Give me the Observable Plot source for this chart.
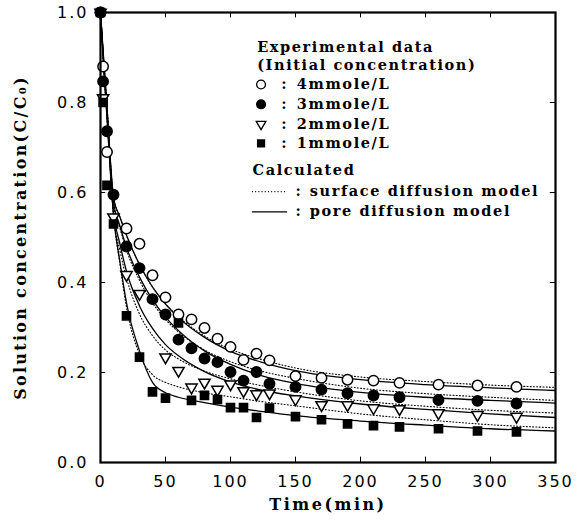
<!DOCTYPE html>
<html><head><meta charset="utf-8">
<script src="https://cdn.jsdelivr.net/npm/d3@7"></script>
<script src="https://cdn.jsdelivr.net/npm/@observablehq/plot@0.6"></script>
<style>
body{margin:0;background:#fff}
#chart{position:absolute;left:0;top:0}
</style></head><body><div id="chart"></div><script>
// ---- experimental data ----
const t4 = [0, 2, 5, 20, 30, 40, 50, 60, 70, 80, 90, 100, 110, 120, 130, 150, 170, 190, 210, 230, 260, 290, 320];
const c4 = [1.0, 0.88, 0.69, 0.52, 0.486, 0.416, 0.367, 0.329, 0.318, 0.299, 0.275, 0.257, 0.228, 0.242, 0.227, 0.192, 0.188, 0.184, 0.182, 0.177, 0.173, 0.171, 0.168];
const t3 = [0, 2, 5, 10, 20, 30, 40, 50, 60, 70, 80, 90, 100, 110, 120, 130, 150, 170, 190, 210, 230, 260, 290, 320];
const c3 = [1.0, 0.847, 0.736, 0.595, 0.48, 0.432, 0.363, 0.329, 0.273, 0.254, 0.231, 0.223, 0.201, 0.182, 0.201, 0.175, 0.168, 0.162, 0.154, 0.149, 0.145, 0.139, 0.137, 0.131];
const t2 = [0, 2, 10, 20, 30, 50, 60, 70, 80, 90, 100, 110, 120, 130, 150, 170, 190, 210, 230, 260, 290, 320];
const c2 = [1.0, 0.81, 0.545, 0.417, 0.375, 0.234, 0.204, 0.167, 0.178, 0.162, 0.174, 0.159, 0.152, 0.154, 0.141, 0.128, 0.128, 0.121, 0.119, 0.11, 0.106, 0.102];
const t1 = [0, 2, 5, 10, 20, 30, 40, 50, 60, 70, 80, 90, 100, 110, 120, 130, 150, 170, 190, 210, 230, 260, 290, 320];
const c1 = [1.0, 0.80, 0.616, 0.53, 0.326, 0.234, 0.157, 0.143, 0.31, 0.138, 0.149, 0.14, 0.122, 0.122, 0.1, 0.121, 0.102, 0.095, 0.086, 0.082, 0.079, 0.075, 0.07, 0.068];

// ---- calculated curves ----
const curveT = [0, 2, 5, 10, 15, 20, 30, 40, 50, 60, 80, 100, 125, 150, 200, 250, 300, 350];
const pore4 = [1.0, 0.915, 0.79, 0.59, 0.545, 0.505, 0.44, 0.39, 0.352, 0.322, 0.278, 0.247, 0.222, 0.204, 0.184, 0.173, 0.166, 0.16];
const surf4 = [1.0, 0.915, 0.79, 0.59, 0.545, 0.505, 0.44, 0.39, 0.353, 0.324, 0.281, 0.252, 0.228, 0.21, 0.19, 0.18, 0.172, 0.167];
const pore3 = [1.0, 0.91, 0.785, 0.58, 0.525, 0.478, 0.412, 0.362, 0.323, 0.293, 0.248, 0.218, 0.192, 0.176, 0.156, 0.145, 0.138, 0.132];
const surf3 = [1.0, 0.91, 0.785, 0.575, 0.52, 0.472, 0.405, 0.355, 0.318, 0.29, 0.25, 0.224, 0.202, 0.187, 0.165, 0.153, 0.145, 0.138];
const pore2 = [1.0, 0.905, 0.775, 0.56, 0.485, 0.425, 0.348, 0.298, 0.262, 0.237, 0.202, 0.179, 0.16, 0.148, 0.13, 0.118, 0.108, 0.1];
const surf2 = [1.0, 0.905, 0.775, 0.55, 0.47, 0.41, 0.33, 0.282, 0.25, 0.23, 0.203, 0.186, 0.17, 0.157, 0.137, 0.125, 0.116, 0.11];
const pore1 = [1.0, 0.9, 0.765, 0.55, 0.445, 0.355, 0.248, 0.178, 0.155, 0.145, 0.133, 0.123, 0.113, 0.104, 0.092, 0.083, 0.075, 0.07];
const surf1 = [1.0, 0.9, 0.765, 0.55, 0.44, 0.345, 0.24, 0.195, 0.178, 0.168, 0.155, 0.146, 0.135, 0.126, 0.108, 0.095, 0.084, 0.077];

// ---- axes & text ----
const xTicks = [0, 50, 100, 150, 200, 250, 300, 350];
const yTicks = [0.0, 0.2, 0.4, 0.6, 0.8, 1.0];
const xTitle = "Time(min)";
const yTitle = "Solution concentration(C/C\u2080)";
const legendHead = ["Experimental data", "(Initial concentration)"];
const seriesLabels = ["4mmole/L", "3mmole/L", "2mmole/L", "1mmole/L"];
const calcHead = "Calculated";
const modelLabels = ["surface diffusion model", "pore diffusion model"];

const pts = (t, c) => t.map((x, i) => ({t: x, c: c[i]}));
const crv = (v) => curveT.map((x, i) => ({t: x, c: v[i]}));

const serif = "DejaVu Serif";
const legX = 120.5, symX = 123.5, colX = 141, labX = 151;
const rowsY = [0.922, 0.882, 0.84, 0.796, 0.752, 0.709];
const calcY = 0.649, modelY = [0.602, 0.557];
const lineX1 = 116.5, lineX2 = 143.5, modelColX = 152, modelLabX = 161;
const dotted = "1,2.2";

const symbols = [
  {symbol: "circle", fill: "white", stroke: "black", r: 5.2, rotate: 0},
  {symbol: "circle", fill: "black", stroke: "black", r: 5.2, rotate: 0},
  {symbol: "triangle", fill: "white", stroke: "black", r: 4.2, rotate: 180},
  {symbol: "square", fill: "black", stroke: "black", r: 4.6, rotate: 0}
];
const series = [pts(t4, c4), pts(t3, c3), pts(t2, c2), pts(t1, c1)];

const dotMarks = series.map((d, i) => Plot.dot(d, {x: "t", y: "c", symbol: () => symbols[i].symbol, fill: symbols[i].fill, stroke: symbols[i].stroke, strokeWidth: 1.5, r: symbols[i].r, rotate: symbols[i].rotate}));
const legendDots = symbols.map((s, i) => Plot.dot([{t: symX, c: rowsY[i + 2]}], {x: "t", y: "c", symbol: () => s.symbol, fill: s.fill, stroke: s.stroke, strokeWidth: 1.3, r: s.r * 0.85, rotate: s.rotate}));

const chart = Plot.plot({
  width: 578, height: 524,
  marginLeft: 100, marginRight: 23, marginTop: 12, marginBottom: 62,
  x: {domain: [0, 350]},
  y: {domain: [0, 1]},
  style: {background: "white", color: "black"},
  marks: [
    // curves
    ...[surf4, surf3, surf2, surf1].map(v => Plot.line(crv(v), {x: "t", y: "c", stroke: "black", strokeWidth: 1.1, strokeDasharray: dotted, curve: "monotone-x"})),
    ...[pore4, pore3, pore2, pore1].map(v => Plot.line(crv(v), {x: "t", y: "c", stroke: "black", strokeWidth: 1.3, curve: "monotone-x"})),
    ...dotMarks,
    // inward ticks
    Plot.ruleX(xTicks.slice(1, -1), {y1: 0, y2: 0.012, stroke: "black", strokeWidth: 1}),
    Plot.ruleX(xTicks.slice(1, -1), {y1: 1, y2: 0.988, stroke: "black", strokeWidth: 1}),
    Plot.ruleY(yTicks.slice(1, -1), {x1: 0, x2: 4, stroke: "black", strokeWidth: 1}),
    Plot.ruleY(yTicks.slice(1, -1), {x1: 350, x2: 346, stroke: "black", strokeWidth: 1}),
    Plot.frame({stroke: "black", strokeWidth: 2.2}),
    Plot.axisX(xTicks, {label: null, tickSize: 0, tickPadding: 13, fontSize: 16, fontFamily: "DejaVu Sans", tickFormat: d3.format("d")}),
    Plot.axisY(yTicks, {label: null, tickSize: 0, tickPadding: 12, fontSize: 16, fontFamily: "DejaVu Sans", tickFormat: d3.format(".1f")}),
    Plot.text([xTitle], {frameAnchor: "bottom", dy: 47, fontFamily: serif, fontWeight: "bold", fontSize: 16}),
    Plot.text([yTitle], {frameAnchor: "left", dx: -80, rotate: -90, textAnchor: "middle", fontFamily: serif, fontWeight: "bold", fontSize: 16}),
    // legend
    Plot.text(legendHead, {x: legX, y: (d, i) => rowsY[i], textAnchor: "start", fontFamily: serif, fontWeight: "bold", fontSize: 14.5}),
    ...legendDots,
    Plot.text(seriesLabels, {x: colX, y: (d, i) => rowsY[i + 2], text: () => ":", textAnchor: "middle", fontFamily: serif, fontWeight: "bold", fontSize: 14.5}),
    Plot.text(seriesLabels, {x: labX, y: (d, i) => rowsY[i + 2], textAnchor: "start", fontFamily: serif, fontWeight: "bold", fontSize: 14.5}),
    Plot.text([calcHead], {x: legX - 3.5, y: calcY, textAnchor: "start", fontFamily: serif, fontWeight: "bold", fontSize: 14.5}),
    Plot.link([modelLabels[0]], {x1: lineX1, x2: lineX2, y1: modelY[0], y2: modelY[0], stroke: "black", strokeWidth: 1.1, strokeDasharray: dotted}),
    Plot.link([modelLabels[1]], {x1: lineX1, x2: lineX2, y1: modelY[1], y2: modelY[1], stroke: "black", strokeWidth: 1.4}),
    Plot.text(modelLabels, {x: modelColX, y: (d, i) => modelY[i], text: () => ":", textAnchor: "middle", fontFamily: serif, fontWeight: "bold", fontSize: 14.5}),
    Plot.text(modelLabels, {x: modelLabX, y: (d, i) => modelY[i], textAnchor: "start", fontFamily: serif, fontWeight: "bold", fontSize: 14.5})
  ]
});
document.getElementById("chart").appendChild(chart);
d3.select(chart).selectAll('g[aria-label="x-axis tick label"] text, g[aria-label="y-axis tick label"] text').style("letter-spacing", "2px");
const legendTexts = new Set([...legendHead, ...seriesLabels, calcHead, ...modelLabels]);
d3.select(chart).selectAll("text").each(function() {
  const s = this.textContent;
  if (legendTexts.has(s)) this.style.letterSpacing = "1.6px";
  if (s === xTitle) this.style.letterSpacing = "2.5px";
  if (s === yTitle) this.style.letterSpacing = "2.3px";
});
</script></body></html>
